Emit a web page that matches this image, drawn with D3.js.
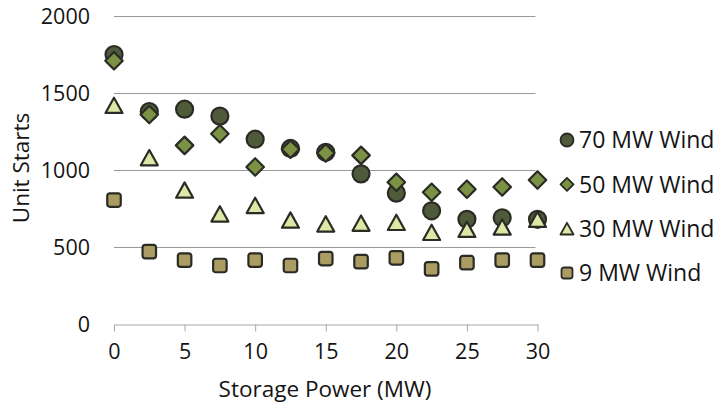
<!DOCTYPE html>
<html>
<head>
<meta charset="utf-8">
<script src="https://cdn.jsdelivr.net/npm/d3@7"></script>
<style>
  html, body { margin: 0; padding: 0; background: #fff; }
  svg text { font-family: "Open Sans", "DejaVu Sans", sans-serif; fill: #141414; font-weight: 500; }
</style>
</head>
<body>
<svg id="chart" width="720" height="404"></svg>
<script>
// Storage power levels (MW)
const storagePower = [0, 2.5, 5, 7.5, 10, 12.5, 15, 17.5, 20, 22.5, 25, 27.5, 30];

// Unit starts per wind penetration scenario
const wind70 = [1750, 1380, 1395, 1350, 1200, 1140, 1115, 975, 850, 735, 680, 690, 680];
const wind50 = [1710, 1360, 1160, 1235, 1020, 1135, 1110, 1095, 920, 855, 875, 890, 935];
const wind30 = [1420, 1080, 870, 715, 770, 675, 650, 655, 660, 595, 615, 630, 680];
const wind9  = [805, 470, 415, 380, 415, 380, 425, 405, 430, 358, 398, 415, 415];

const seriesNames = ["70 MW Wind", "50 MW Wind", "30 MW Wind", "9 MW Wind"];
const yTicks = [0, 500, 1000, 1500, 2000];
const xTicks = [0, 5, 10, 15, 20, 25, 30];

const svg = d3.select("#chart");

const x = d3.scaleLinear().domain([0, 30]).range([114, 537.5]);
const y = d3.scaleLinear().domain([0, 2000]).range([324, 16]);

// Marker shapes, centred on their bounding box
function markerPath(kind, s) {
  const p = d3.path();
  if (kind === "circle") {
    p.arc(0, 0, s / 2, 0, 2 * Math.PI);
  } else if (kind === "diamond") {
    const h = s / 2;
    p.moveTo(0, -h); p.lineTo(h, 0); p.lineTo(0, h); p.lineTo(-h, 0); p.closePath();
  } else if (kind === "triangle") {
    const w = s / 2, h = s * 0.45;
    p.moveTo(0, -h); p.lineTo(w, h); p.lineTo(-w, h); p.closePath();
  } else {
    const h = s / 2, r = 2.5;
    p.moveTo(-h + r, -h); p.lineTo(h - r, -h); p.arcTo(h, -h, h, -h + r, r);
    p.lineTo(h, h - r); p.arcTo(h, h, h - r, h, r);
    p.lineTo(-h + r, h); p.arcTo(-h, h, -h, h - r, r);
    p.lineTo(-h, -h + r); p.arcTo(-h, -h, -h + r, -h, r);
    p.closePath();
  }
  return p.toString();
}

const series = [
  { name: seriesNames[0], values: wind70, kind: "circle",   size: 17,   fill: "#4f5a3a" },
  { name: seriesNames[1], values: wind50, kind: "diamond",  size: 17.5, fill: "#7b9245" },
  { name: seriesNames[2], values: wind30, kind: "triangle", size: 17,   fill: "#dce9a6" },
  { name: seriesNames[3], values: wind9,  kind: "square",   size: 13.5, fill: "#aa9c63" }
];

// Horizontal gridlines
svg.append("g")
  .selectAll("line")
  .data(yTicks.filter(d => d > 0))
  .join("line")
  .attr("x1", x(0)).attr("x2", x(30) - 2)
  .attr("y1", d => Math.round(y(d)) + 0.5).attr("y2", d => Math.round(y(d)) + 0.5)
  .attr("stroke", "#9a9a9a").attr("stroke-width", 1);

// Y axis labels
const yAxis = svg.append("g")
  .attr("transform", `translate(${x(0)},0)`)
  .call(d3.axisLeft(y).tickValues(yTicks).tickSize(0).tickPadding(24).tickFormat(d3.format("d")));
yAxis.select(".domain").remove();
yAxis.selectAll("text").attr("font-size", 21.5).attr("dy", "0.35em");

// X axis
const xAxis = svg.append("g")
  .attr("transform", `translate(0,${Math.round(y(0)) + 0.5})`)
  .call(d3.axisBottom(x).tickValues(xTicks).tickSize(7).tickPadding(12).tickSizeOuter(0));
xAxis.select(".domain").attr("stroke", "#a6a6a6");
xAxis.selectAll(".tick line").attr("stroke", "#a6a6a6");
xAxis.selectAll("text").attr("font-size", 21.5);

// Axis titles
svg.append("text")
  .attr("transform", `translate(29,168) rotate(-90)`)
  .attr("text-anchor", "middle")
  .attr("font-size", 22.5)
  .text("Unit Starts");

svg.append("text")
  .attr("x", 325).attr("y", 397)
  .attr("text-anchor", "middle")
  .attr("font-size", 22.5)
  .text("Storage Power (MW)");

// Data markers, drawn series by series
series.forEach(s => {
  svg.append("g")
    .selectAll("path")
    .data(s.values.map((v, i) => [storagePower[i], v]))
    .join("path")
    .attr("transform", d => `translate(${x(d[0])},${y(d[1])})`)
    .attr("d", markerPath(s.kind, s.size))
    .attr("fill", s.fill)
    .attr("stroke", "#2b2b25")
    .attr("stroke-width", 2.2)
    .attr("stroke-linejoin", "round");
});

// Legend
const legendY = d3.scalePoint().domain(seriesNames).range([140, 273]);
const legend = svg.append("g");
series.forEach(s => {
  const g = legend.append("g").attr("transform", `translate(567,${legendY(s.name)})`);
  g.append("path")
    .attr("d", markerPath(s.kind, s.kind === "square" ? 11 : 13))
    .attr("fill", s.fill)
    .attr("stroke", "#2b2b25")
    .attr("stroke-width", 1.8)
    .attr("stroke-linejoin", "round");
  g.append("text")
    .attr("x", 12).attr("dy", "0.36em")
    .attr("font-size", 23)
    .text(s.name);
});
</script>
</body>
</html>
